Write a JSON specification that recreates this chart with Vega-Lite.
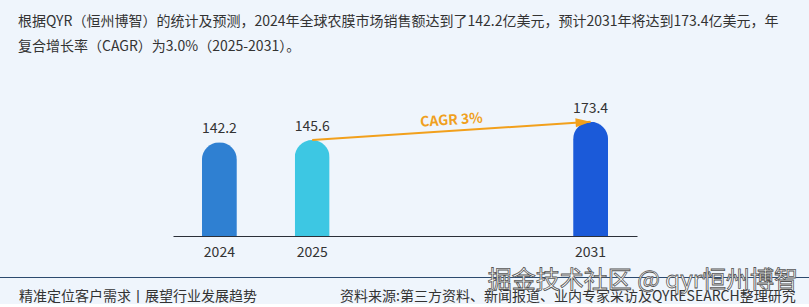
{
  "$schema": "https://vega.github.io/schema/vega-lite/v6.json",
  "background": "#eff5fc",
  "padding": {"left": 0, "top": 15, "right": 0, "bottom": 0},
  "config": {
    "view": {"stroke": null},
    "font": "Noto Sans CJK SC",
    "concat": {"spacing": 9},
    "axis": {"grid": false}
  },
  "datasets": {
    "bars": [
      {"year": "2024", "value": 142.2},
      {"year": "2025", "value": 145.6},
      {"year": "2031", "value": 173.4}
    ],
    "arrow": [
      {"from": "2025", "to": "2031", "start": 145.6, "end": 173.4, "label": "CAGR 3%"}
    ],
    "footer": [
      {"part": "left", "label": "精准定位客户需求丨展望行业发展趋势"},
      {"part": "right", "label": "资料来源:第三方资料、新闻报道、业内专家采访及QYRESEARCH整理研究"}
    ],
    "stamp": [
      {"label": "掘金技术社区 @ qyr恒州博智"}
    ]
  },
  "vconcat": [
    {
      "width": 809,
      "height": 168,
      "title": {
        "text": [
          "根据QYR（恒州博智）的统计及预测，2024年全球农膜市场销售额达到了142.2亿美元，预计2031年将达到173.4亿美元，年",
          "复合增长率（CAGR）为3.0%（2025-2031）。"
        ],
        "anchor": "start",
        "dx": 18,
        "fontSize": 14,
        "fontWeight": "normal",
        "color": "#333333",
        "lineHeight": 25,
        "offset": 14
      },
      "layer": [
        {
          "data": {"name": "bars"},
          "mark": {"type": "bar", "size": 35, "cornerRadiusTopLeft": 17.5, "cornerRadiusTopRight": 17.5},
          "encoding": {
            "x": {
              "field": "year",
              "type": "ordinal",
              "scale": {"domain": ["2024", "2025", "g1", "g2", "2031"], "range": [173, 637], "paddingInner": 0, "paddingOuter": 0},
              "axis": {
                "title": null,
                "labelExpr": "datum.value == 'g1' || datum.value == 'g2' ? '' : datum.value",
                "ticks": false,
                "domainColor": "#2b2f38",
                "domainWidth": 1.2,
                "labelFontSize": 14,
                "labelColor": "#333333",
                "labelPadding": 9,
                "labelAngle": 0
              }
            },
            "y": {
              "field": "value",
              "type": "quantitative",
              "scale": {"domain": [0, 255], "nice": false},
              "axis": null
            },
            "color": {
              "field": "year",
              "type": "nominal",
              "scale": {"domain": ["2024", "2025", "2031"], "range": ["#2f80d2", "#3dc7e3", "#1b5ad9"]},
              "legend": null
            }
          }
        },
        {
          "data": {"name": "bars"},
          "mark": {"type": "text", "fontSize": 14, "color": "#333333", "baseline": "middle", "dy": -13},
          "encoding": {
            "x": {"field": "year", "type": "ordinal"},
            "y": {"field": "value", "type": "quantitative"},
            "text": {"field": "value", "type": "quantitative", "format": ".1f"}
          }
        },
        {
          "data": {"name": "arrow"},
          "mark": {"type": "rule", "color": "#f2a01c", "strokeWidth": 2},
          "encoding": {
            "x": {"field": "from", "type": "ordinal"},
            "x2": {"field": "to"},
            "y": {"field": "start", "type": "quantitative"},
            "y2": {"field": "end"}
          }
        },
        {
          "data": {"name": "arrow"},
          "mark": {"type": "point", "shape": "M0,0L-1,-0.3L-1,0.3Z", "size": 900, "filled": true, "color": "#f2a01c", "opacity": 1, "angle": 356.2},
          "encoding": {
            "x": {"field": "to", "type": "ordinal"},
            "y": {"field": "end", "type": "quantitative"}
          }
        },
        {
          "data": {"name": "arrow"},
          "mark": {"type": "text", "fontSize": 14, "fontWeight": "bold", "color": "#f0a020", "baseline": "middle", "align": "center", "angle": 356.2},
          "encoding": {
            "x": {"datum": "g2", "type": "ordinal", "bandPosition": 0},
            "y": {"datum": 175, "type": "quantitative"},
            "text": {"field": "label"}
          }
        }
      ]
    },
    {
      "width": 809,
      "height": 1,
      "view": {"fill": "#2c4a6e", "stroke": null},
      "layer": [
        {
          "data": {"name": "footer"},
          "mark": {"type": "text", "fontSize": 14, "color": "#333333", "align": "left", "baseline": "middle", "dy": 19},
          "encoding": {
            "x": {
              "field": "part",
              "type": "nominal",
              "scale": {"type": "point", "domain": ["left", "right"], "range": [19, 340], "padding": 0},
              "axis": null
            },
            "text": {"field": "label"}
          }
        },
        {
          "data": {"name": "stamp"},
          "mark": {"type": "text", "fontSize": 24, "fill": "#ffffff", "stroke": "#555555", "strokeWidth": 0.8, "align": "right", "baseline": "middle", "dy": 3, "x": {"expr": "width - 11"}},
          "encoding": {
            "text": {"field": "label"}
          }
        }
      ]
    }
  ]
}
